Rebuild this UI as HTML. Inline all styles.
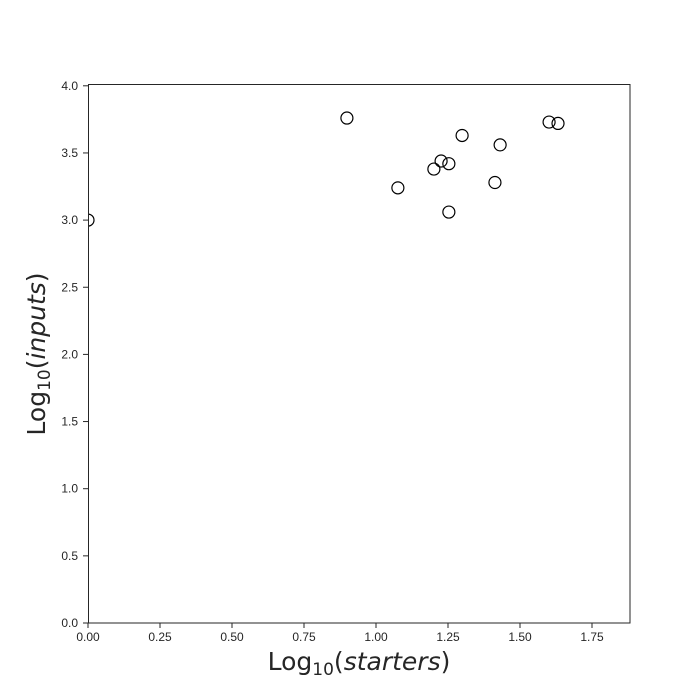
<!DOCTYPE html>
<html><head><meta charset="utf-8"><style>body{margin:0;background:#fff}svg{display:block}text{font-family:"DejaVu Sans","Liberation Sans",sans-serif;fill:#262626}.tk{font-family:"Liberation Sans",sans-serif}</style></head>
<body>
<svg id="chart" width="700" height="700" xmlns="http://www.w3.org/2000/svg">
<defs><clipPath id="clip"><rect x="88" y="84" width="542" height="539"/></clipPath></defs>
<rect x="0" y="0" width="700" height="700" fill="#fff"/>
<g id="points" clip-path="url(#clip)"></g>
<rect x="88.5" y="84.5" width="541.5" height="538.5" fill="none" stroke="#262626" stroke-width="1"/>
<g id="axes"></g>
<text x="359" y="670" text-anchor="middle" font-size="25">Log<tspan font-size="17" dy="5">10</tspan><tspan dy="-5">(</tspan><tspan font-style="italic">starters</tspan>)</text>
<text transform="translate(45,354) rotate(-90)" text-anchor="middle" font-size="25">Log<tspan font-size="17" dy="5">10</tspan><tspan dy="-5">(</tspan><tspan font-style="italic">inputs</tspan>)</text>
</svg>
<script>
const xValues = [0, 0.899, 1.076, 1.201, 1.226, 1.253, 1.253, 1.299, 1.413, 1.431, 1.601, 1.632];
const yValues = [3.0, 3.76, 3.24, 3.38, 3.44, 3.42, 3.06, 3.63, 3.28, 3.56, 3.73, 3.72];
const xTicks = [0, 0.25, 0.5, 0.75, 1.0, 1.25, 1.5, 1.75];
const yTicks = [0, 0.5, 1.0, 1.5, 2.0, 2.5, 3.0, 3.5, 4.0];
const NS = "http://www.w3.org/2000/svg";
const xs = v => 88 + v * 288;
const ys = v => 623 - v * 134.3;
const pts = document.getElementById('points');
xValues.forEach((xv, i) => {
  const c = document.createElementNS(NS, 'circle');
  c.setAttribute('cx', xs(xv)); c.setAttribute('cy', ys(yValues[i]));
  c.setAttribute('r', 6); c.setAttribute('fill', 'none');
  c.setAttribute('stroke', '#000'); c.setAttribute('stroke-width', 1.2);
  
  
  pts.appendChild(c);
});
const ax = document.getElementById('axes');
xTicks.forEach(t => {
  const l = document.createElementNS(NS, 'line');
  l.setAttribute('x1', xs(t)); l.setAttribute('x2', xs(t)); l.setAttribute('y1', 623); l.setAttribute('y2', 628);
  l.setAttribute('stroke', '#262626');
  
  
  ax.appendChild(l);
  const tx = document.createElementNS(NS, 'text');
  tx.setAttribute('x', xs(t)); tx.setAttribute('y', 641); tx.setAttribute('text-anchor', 'middle'); tx.setAttribute('font-size', 12);
  tx.setAttribute('class', 'tk');
  tx.textContent = t.toFixed(2);
  
  
  ax.appendChild(tx);
});
yTicks.forEach(t => {
  const l = document.createElementNS(NS, 'line');
  l.setAttribute('x1', 83); l.setAttribute('x2', 88); l.setAttribute('y1', ys(t)); l.setAttribute('y2', ys(t));
  l.setAttribute('stroke', '#262626');
  
  
  ax.appendChild(l);
  const tx = document.createElementNS(NS, 'text');
  tx.setAttribute('x', 78); tx.setAttribute('y', ys(t) + 4); tx.setAttribute('text-anchor', 'end'); tx.setAttribute('font-size', 12);
  tx.setAttribute('class', 'tk');
  tx.textContent = t.toFixed(1);
  
  
  ax.appendChild(tx);
});
</script>
</body></html>
